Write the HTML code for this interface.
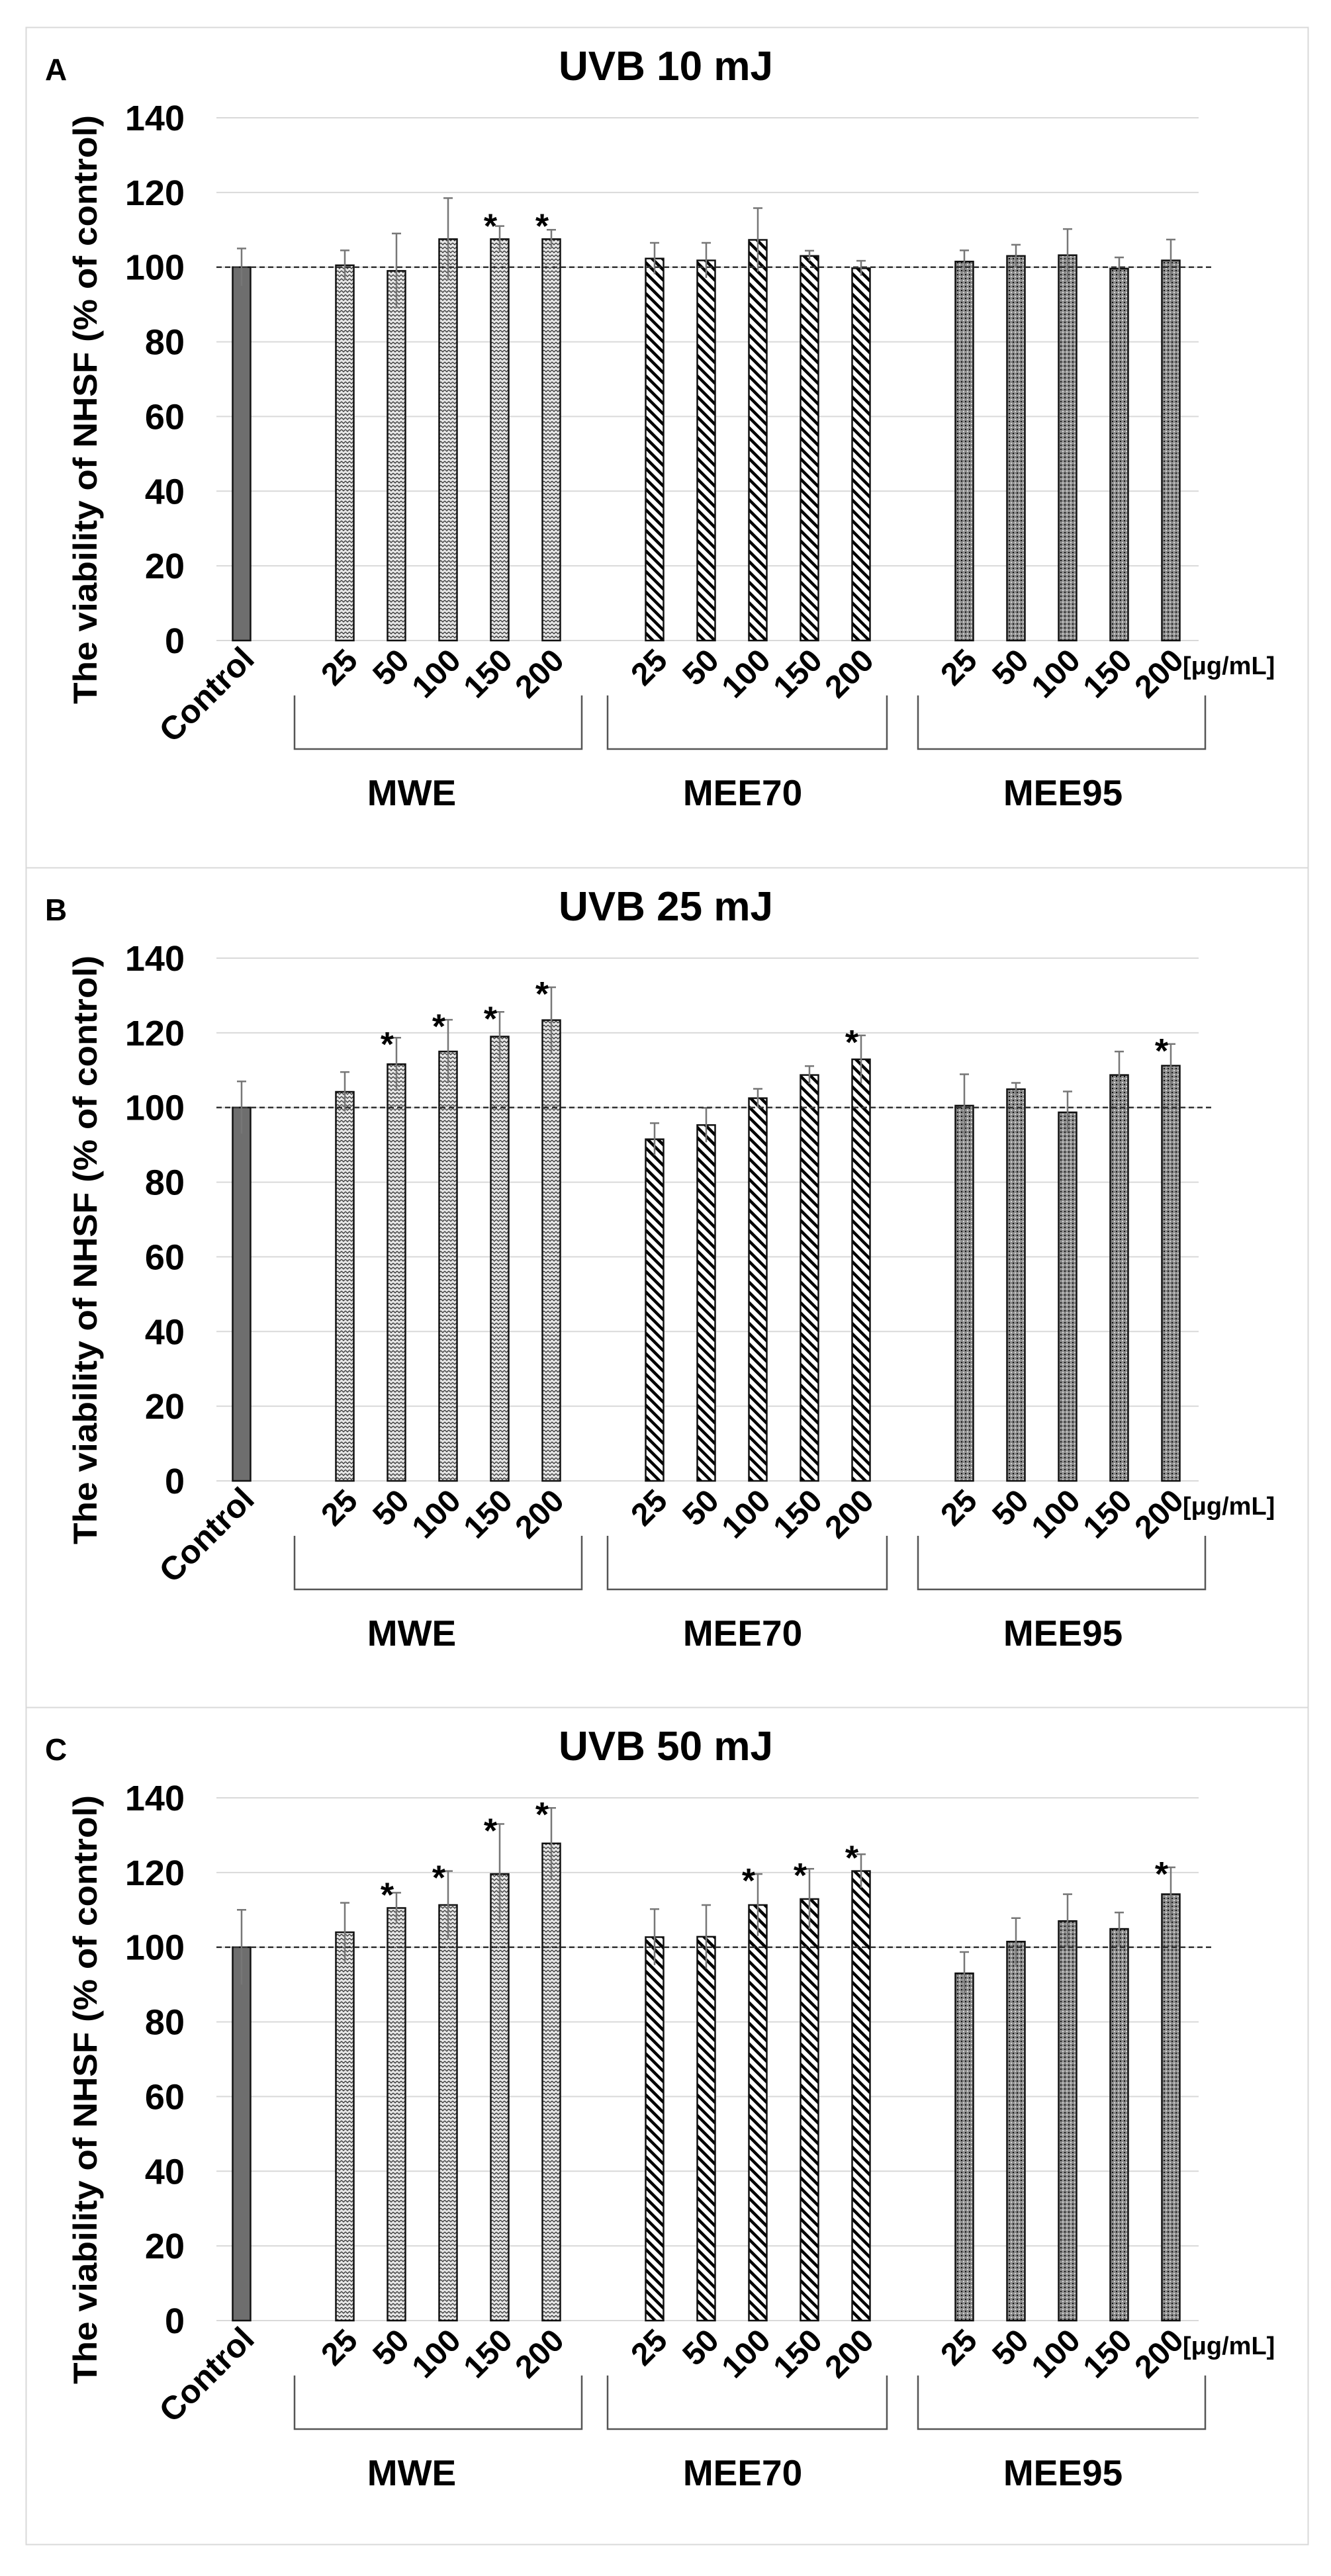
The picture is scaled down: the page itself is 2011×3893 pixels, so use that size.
<!DOCTYPE html>
<html><head><meta charset="utf-8"><style>
html,body{margin:0;padding:0;background:#fff;}
svg text{font-family:"Liberation Sans",Arial,sans-serif;font-weight:bold;fill:#000;}
</style></head><body>
<svg id="fig" width="2011" height="3888" viewBox="0 0 2011 3888" xmlns="http://www.w3.org/2000/svg">
<defs>
<pattern id="pMWE" width="6" height="6" patternUnits="userSpaceOnUse">
<rect width="6" height="6" fill="#e6e6e6"/>
<path d="M0 1 L3 4 L6 1" stroke="#333" stroke-width="1.3" fill="none"/>
</pattern>
<pattern id="pMEE70" width="11" height="11" patternUnits="userSpaceOnUse" patternTransform="rotate(-45)">
<rect width="11" height="11" fill="#fff"/>
<rect x="0" y="0" width="4.5" height="11" fill="#000"/>
</pattern>
<pattern id="pMEE95" width="6" height="6" patternUnits="userSpaceOnUse">
<rect width="6" height="6" fill="#8c8c8c"/>
<rect x="0" y="0" width="2" height="2" fill="#111"/>
<rect x="3" y="3" width="2" height="2" fill="#d8d8d8"/>
</pattern>
</defs>
</svg>
<script>
// ---- data ----
const panelLetters = ["A", "B", "C"];
const panelTitles = ["UVB 10 mJ", "UVB 25 mJ", "UVB 50 mJ"];
const yTicks = [0, 20, 40, 60, 80, 100, 120, 140];
const doseLabels = ["25", "50", "100", "150", "200"];
const groupNames = ["MWE", "MEE70", "MEE95"];
const controlA = [100, 5];
const controlB = [100, 7];
const controlC = [100, 10];
const mweA = [100.5, 99, 107.5, 107.5, 107.5];
const mweErrA = [4, 10, 11, 3.5, 2.5];
const mee70A = [102.3, 101.8, 107.3, 103, 99.7];
const mee70ErrA = [4.2, 4.7, 8.5, 1.4, 2];
const mee95A = [101.5, 103, 103.2, 99.6, 101.8];
const mee95ErrA = [3, 3, 7, 3, 5.6];
const mweB = [104.2, 111.6, 115, 119, 123.4];
const mweErrB = [5.3, 7.1, 8.5, 6.6, 8.8];
const mee70B = [91.5, 95.3, 102.5, 108.7, 112.9];
const mee70ErrB = [4.3, 4.6, 2.5, 2.4, 6.4];
const mee95B = [100.5, 104.9, 98.7, 108.7, 111.2];
const mee95ErrB = [8.4, 1.7, 5.6, 6.3, 5.8];
const mweC = [104, 110.5, 111.3, 119.6, 127.8];
const mweErrC = [7.9, 4.1, 9.1, 13.4, 9.5];
const mee70C = [102.7, 102.8, 111.3, 112.9, 120.4];
const mee70ErrC = [7.5, 8.5, 8.3, 8.1, 4.5];
const mee95C = [93, 101.5, 107, 104.9, 114.2];
const mee95ErrC = [5.7, 6.3, 7.2, 4.4, 7.2];
const starsMWE_A = [0, 0, 0, 1, 1];
const starsMEE70_A = [0, 0, 0, 0, 0];
const starsMEE95_A = [0, 0, 0, 0, 0];
const starsMWE_B = [0, 1, 1, 1, 1];
const starsMEE70_B = [0, 0, 0, 0, 1];
const starsMEE95_B = [0, 0, 0, 0, 1];
const starsMWE_C = [0, 1, 1, 1, 1];
const starsMEE70_C = [0, 0, 1, 1, 1];
const starsMEE95_C = [0, 0, 0, 0, 1];

const panels = [
 {ctrl: controlA, vals: [mweA, mee70A, mee95A], errs: [mweErrA, mee70ErrA, mee95ErrA], stars: [starsMWE_A, starsMEE70_A, starsMEE95_A]},
 {ctrl: controlB, vals: [mweB, mee70B, mee95B], errs: [mweErrB, mee70ErrB, mee95ErrB], stars: [starsMWE_B, starsMEE70_B, starsMEE95_B]},
 {ctrl: controlC, vals: [mweC, mee70C, mee95C], errs: [mweErrC, mee70ErrC, mee95ErrC], stars: [starsMWE_C, starsMEE70_C, starsMEE95_C]}
];

// ---- layout ----
const svg = document.getElementById('fig');
const NS = 'http://www.w3.org/2000/svg';
const panelTops = [41, 1311, 2580];
const panelH = [1270, 1269, 1265];
const groupFills = ['url(#pMWE)', 'url(#pMEE70)', 'url(#pMEE95)'];
const groupKeys = ['mwe', 'mee70', 'mee95'];
const bracketX = [[445, 879], [918, 1340], [1387, 1821]];
const groupLabelX = [622, 1122, 1606];

function mk(tag, attrs, parent) {
  const e = document.createElementNS(NS, tag);
  for (const k in attrs) e.setAttribute(k, attrs[k]);
  (parent || svg).appendChild(e);
  return e;
}
function xSlot(i) { return 365 + 78 * i; }

panels.forEach((p, pi) => {
  const top = panelTops[pi];
  const g = mk('g', {});
  
  
  const yS = v => top + 927 - v * (790 / 140);

  const frame = mk('rect', {x: 39.5, y: top + 0.5, width: 1937, height: panelH[pi], fill: 'none', stroke: '#d9d9d9', 'stroke-width': 2}, g);
  
  

  const letter = mk('text', {x: 68, y: top + 80, 'font-size': 46}, g);
  letter.textContent = panelLetters[pi];
  
  

  const title = mk('text', {x: 1006, y: top + 80, 'font-size': 62, 'text-anchor': 'middle'}, g);
  title.textContent = panelTitles[pi];
  
  

  yTicks.forEach(t => {
    const gl = mk('line', {x1: 327, x2: 1811, y1: yS(t), y2: yS(t), stroke: '#d9d9d9', 'stroke-width': 2}, g);
    
    
    const tl = mk('text', {x: 279, y: yS(t) + 19, 'font-size': 54, 'text-anchor': 'end'}, g);
    tl.textContent = t;
    
    
  });

  const yt = mk('text', {x: 0, y: 0, 'font-size': 50, 'text-anchor': 'middle', textLength: 890, lengthAdjust: 'spacingAndGlyphs', transform: 'translate(146,' + (top + 578) + ') rotate(-90)'}, g);
  yt.textContent = 'The viability of NHSF (% of control)';
  
  

  function bar(i, v, e, fill, name, star) {
    const x = xSlot(i), w = 27;
    const r = mk('rect', {x: x - w / 2, y: yS(v), width: w, height: yS(0) - yS(v), fill: fill, stroke: '#111', 'stroke-width': 2.5}, g);
    
    
    const el = mk('path', {d: 'M' + x + ' ' + yS(v - e) + 'V' + yS(v + e) + 'M' + (x - 7) + ' ' + yS(v + e) + 'H' + (x + 7), stroke: '#777', 'stroke-width': 2.5, fill: 'none'}, g);
    
    
    if (star) {
      const s = mk('text', {x: x - 14, y: Math.min(yS(v) - 2, yS(v + e) + 28), 'font-size': 52, 'text-anchor': 'middle'}, g);
      s.textContent = '*';
      
      
    }
  }
  bar(0, p.ctrl[0], p.ctrl[1], '#6e6e6e', 'bar-control', false);
  p.vals.forEach((arr, gi) => {
    arr.forEach((v, di) => {
      bar(2 + gi * 6 + di, v, p.errs[gi][di], groupFills[gi], 'bar-' + groupKeys[gi] + '-' + doseLabels[di], p.stars[gi][di]);
    });
  });

  const dl = mk('line', {x1: 327, x2: 1835, y1: yS(100), y2: yS(100), stroke: '#333', 'stroke-width': 2.5, 'stroke-dasharray': '8,5'}, g);
  
  

  const cl = mk('text', {x: 0, y: 0, 'font-size': 50, 'text-anchor': 'end', transform: 'translate(' + (xSlot(0) + 22) + ',' + (top + 958) + ') rotate(-45)'}, g);
  cl.textContent = 'Control';
  
  

  groupNames.forEach((gn, gi) => {
    doseLabels.forEach((d, di) => {
      const x = xSlot(2 + gi * 6 + di);
      const t = mk('text', {x: 0, y: 0, 'font-size': 48, 'text-anchor': 'end', transform: 'translate(' + (x + 22) + ',' + (top + 960) + ') rotate(-45)'}, g);
      t.textContent = d;
      
      
    });
    const [bx1, bx2] = bracketX[gi];
    const br = mk('path', {d: 'M' + bx1 + ' ' + (top + 1010) + 'V' + (top + 1091) + 'H' + bx2 + 'V' + (top + 1010), stroke: '#555', 'stroke-width': 2.5, fill: 'none'}, g);
    
    
    const gl = mk('text', {x: groupLabelX[gi], y: top + 1176, 'font-size': 55, 'text-anchor': 'middle'}, g);
    gl.textContent = gn;
    
    
  });

  const u = mk('text', {x: 1787, y: top + 978, 'font-size': 38}, g);
  u.textContent = '[μg/mL]';
  
  
});
</script>
</body></html>
